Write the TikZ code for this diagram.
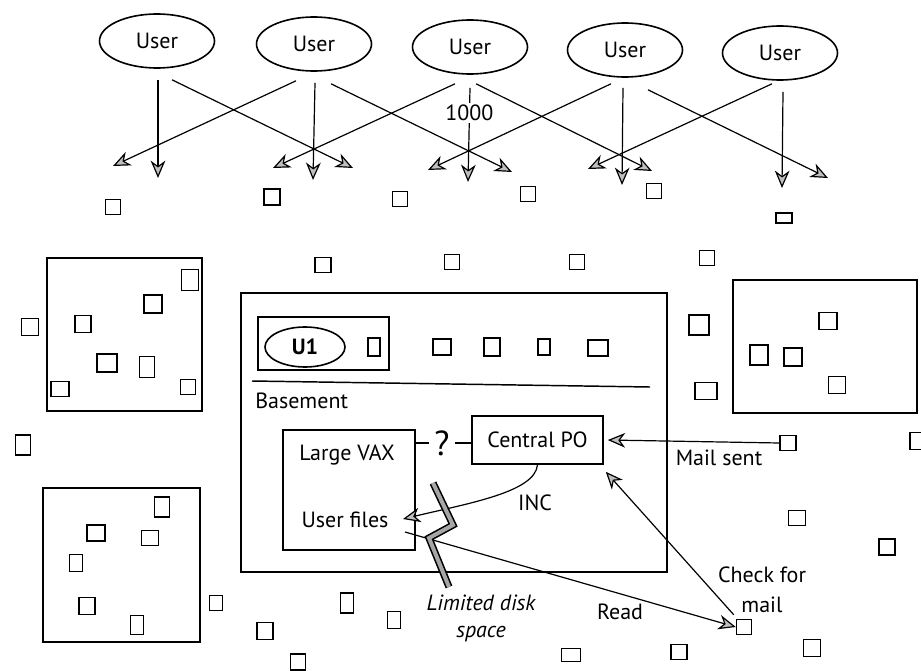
\documentclass[tikz,border=0pt]{standalone}
\usepackage{fontspec}
\setmainfont{PT Sans}
\usetikzlibrary{arrows.meta,shapes.geometric}
% one unit = one pixel of a 921 x 671 sheet, y running downwards
\tikzset{
  wh/.style 2 args={minimum width=#1*0.75pt, minimum height=#2*0.75pt},
  sq/.style={draw, line width=1.1pt, inner sep=0pt},
  frame/.style={draw, line width=1.2pt, inner sep=0pt},
  user/.style={draw, ellipse, line width=1.2pt, wh={115}{54}, inner sep=0pt},
  arr/.style={line width=0.9pt, -{Stealth[length=13pt,width=11pt,inset=4pt,fill=gray!50]}},
  lbl/.style={inner sep=0pt},
}
% small terminal square: name, x, y, width, height
\newcommand\sqr[5]{\node[sq,wh={#4}{#5}] (#1) at (#2,#3) {};}
\begin{document}
\begin{tikzpicture}[x=0.75pt,y=-0.75pt, font=\fontsize{16.5}{20}\selectfont]
\useasboundingbox (0,0) rectangle (921,671);

% ---- users and their fan-out ----
\node[user] (u1) at (157,41) {User};
\node[user] (u2) at (314,44) {User};
\node[user] (u3) at (470,47) {User};
\node[user] (u4) at (625,50) {User};
\node[user] (u5) at (780,53) {User};

\coordinate (e1d) at (158,178); \coordinate (e1r) at (353,168);
\coordinate (e2l) at (113,166); \coordinate (e2d) at (313,180); \coordinate (e2r) at (512,172);
\coordinate (e3l) at (273,168); \coordinate (e3d) at (468,182); \coordinate (e3r) at (652,171);
\coordinate (e4l) at (428,170); \coordinate (e4d) at (622,185); \coordinate (e4r) at (828,178);
\coordinate (e5l) at (588,169); \coordinate (e5d) at (782,188);

\draw[arr] ([shift={(1,11)}]u1.south) -- (e1d);
\draw[arr] ([shift={(15,11)}]u1.south) -- (e1r);
\draw[arr] ([shift={(-18,9)}]u2.south) -- (e2l);
\draw[arr] ([shift={(1,11)}]u2.south) -- (e2d);
\draw[arr] ([shift={(17,12)}]u2.south) -- (e2r);
\draw[arr] ([shift={(-15,9)}]u3.south) -- (e3l);
\draw[arr] ([shift={(0,13)}]u3.south) -- (e3d)
  node[pos=0.27, fill=white, inner sep=1.5pt] (n1000) {1000};
\draw[arr] ([shift={(6,9)}]u3.south) -- (e3r);
\draw[arr] ([shift={(-14,6)}]u4.south) -- (e4l);
\draw[arr] ([shift={(-2,10)}]u4.south) -- (e4d);
\draw[arr] ([shift={(23,12)}]u4.south) -- (e4r);
\draw[arr] ([shift={(-8,3)}]u5.south) -- (e5l);
\draw[arr] ([shift={(3,11)}]u5.south) -- (e5d);

% ---- scattered terminals ----
\sqr{t1}{113}{207}{15}{15}
\sqr{t2}{272}{197}{16}{16}
\sqr{t3}{400}{199}{15}{15}
\sqr{t4}{528}{194}{15}{15}
\sqr{t5}{654}{191}{15}{15}
\sqr{t6}{784}{218}{16}{10}
\sqr{t7}{323}{265}{16}{15}
\sqr{t8}{452}{262}{15}{15}
\sqr{t9}{577}{262}{15}{15}
\sqr{t10}{707}{258}{15}{15}
\sqr{t11}{30}{327}{17}{17}
\sqr{t12}{23}{445}{15}{20}
\sqr{t26}{216}{603}{13}{15}
\sqr{t27}{265}{631}{16}{17}
\sqr{t28}{347}{603}{13}{20}
\sqr{t29}{394}{620}{13}{17}
\sqr{t30}{298}{662}{15}{16}
\sqr{t31}{571}{655}{19}{13}
\sqr{t32}{679}{652}{16}{15}
\sqr{t33}{812}{648}{17}{17}
\sqr{t35}{699}{325}{20}{20}
\sqr{t36}{706}{391}{22}{17}
\sqr{t38}{917}{441}{14}{17}
\sqr{t39}{797}{518}{17}{15}
\sqr{t40}{887}{547}{16}{16}

% ---- other sites ----
\node[frame,wh={155}{153}] (siteA) at (124.5,334.5) {};
\sqr{a1}{190}{280}{17}{21}
\sqr{a2}{153}{304}{18}{18}
\sqr{a3}{83}{324}{16}{17}
\sqr{a4}{107}{363}{20}{18}
\sqr{a5}{147}{367}{15}{21}
\sqr{a6}{60}{389}{18}{15}
\sqr{a7}{188}{387}{15}{15}

\node[frame,wh={157}{154}] (siteB) at (121.5,565) {};
\sqr{b1}{162}{507}{15}{20}
\sqr{b2}{96}{533}{18}{16}
\sqr{b3}{150}{538}{17}{15}
\sqr{b4}{76}{563}{13}{17}
\sqr{b5}{87}{606}{16}{17}
\sqr{b6}{137}{625}{13}{19}

\node[frame,wh={184}{133}] (siteC) at (825,346.5) {};
\sqr{c1}{828}{321}{18}{17}
\sqr{c2}{759}{355}{18}{20}
\sqr{c3}{793}{357}{18}{18}
\sqr{c4}{837}{385}{17}{17}

% ---- basement site ----
\node[frame,wh={426}{279}] (base) at (454,432.5) {};
\node[frame,wh={131}{53}] (u1box) at (323.5,343.5) {};
\node[draw, ellipse, line width=1.2pt, wh={80}{40}, inner sep=0pt,
      font=\fontsize{16.5}{20}\selectfont\bfseries] (uone) at (305,347) {U1};
\sqr{d1}{374}{347}{12}{18}
\sqr{d2}{442}{347}{18}{16}
\sqr{d3}{492}{347}{16}{18}
\sqr{d4}{544}{347}{12}{16}
\sqr{d5}{598}{348}{20}{16}
\draw[line width=1.1pt] (252,381) -- (650,387);
\node[lbl, anchor=base west] (basement) at (255,408) {Basement};

\node[frame,wh={132}{120}] (vax) at (349,490) {};
\node[lbl, anchor=base] (vaxname) at (347,460) {Large VAX};
\node[lbl, anchor=base] (uf) at (345,527) {User files};
\coordinate (ufin) at (403,519);
\coordinate (ufout) at (405,532);

\node[frame,wh={131}{48}] (cp) at (537.5,440) {Central PO};
\node[inner xsep=4pt, inner ysep=0pt, font=\fontsize{26}{30}\selectfont] (q) at (442,443) {?};
\draw[line width=1.1pt] (vax.east |- q) -- (q.west);
\draw[line width=1.1pt] (q.east) -- (cp.west |- q);

\draw[arr] (cp.south) .. controls (535,492) and (470,503) .. (ufin);
\node[lbl, anchor=base] (inc) at (535,510) {INC};

% ---- mail traffic ----
\sqr{ms}{788}{443}{16}{15}
\sqr{cm}{744}{627}{15}{15}
\draw[arr] (ms.west) -- ([shift={(4,0)}]cp.east);
\node[lbl, anchor=base] (mailsent) at (719,465) {Mail sent};
\draw[arr] ([shift={(-2,-4)}]cm.north west) -- ([shift={(2,7)}]cp.south east);
\node[lbl, anchor=base] (chk1) at (762,582) {Check for};
\node[lbl, anchor=base] (chk2) at (762,612) {mail};
\draw[arr] (ufout) -- (cm.west);
\node[lbl, anchor=base] (read) at (620,619) {Read};

% disk-space bolt across the read path
\draw[line width=1.2pt, double=gray!70, double distance=3pt, line join=miter]
  (433,483) -- (453,525) -- (429,538) -- (449,587);
\node[lbl, anchor=base, font=\fontsize{16.5}{20}\selectfont\itshape] (lim1) at (481,610) {Limited disk};
\node[lbl, anchor=base, font=\fontsize{16.5}{20}\selectfont\itshape] (lim2) at (481,637) {space};
\end{tikzpicture}
\end{document}
